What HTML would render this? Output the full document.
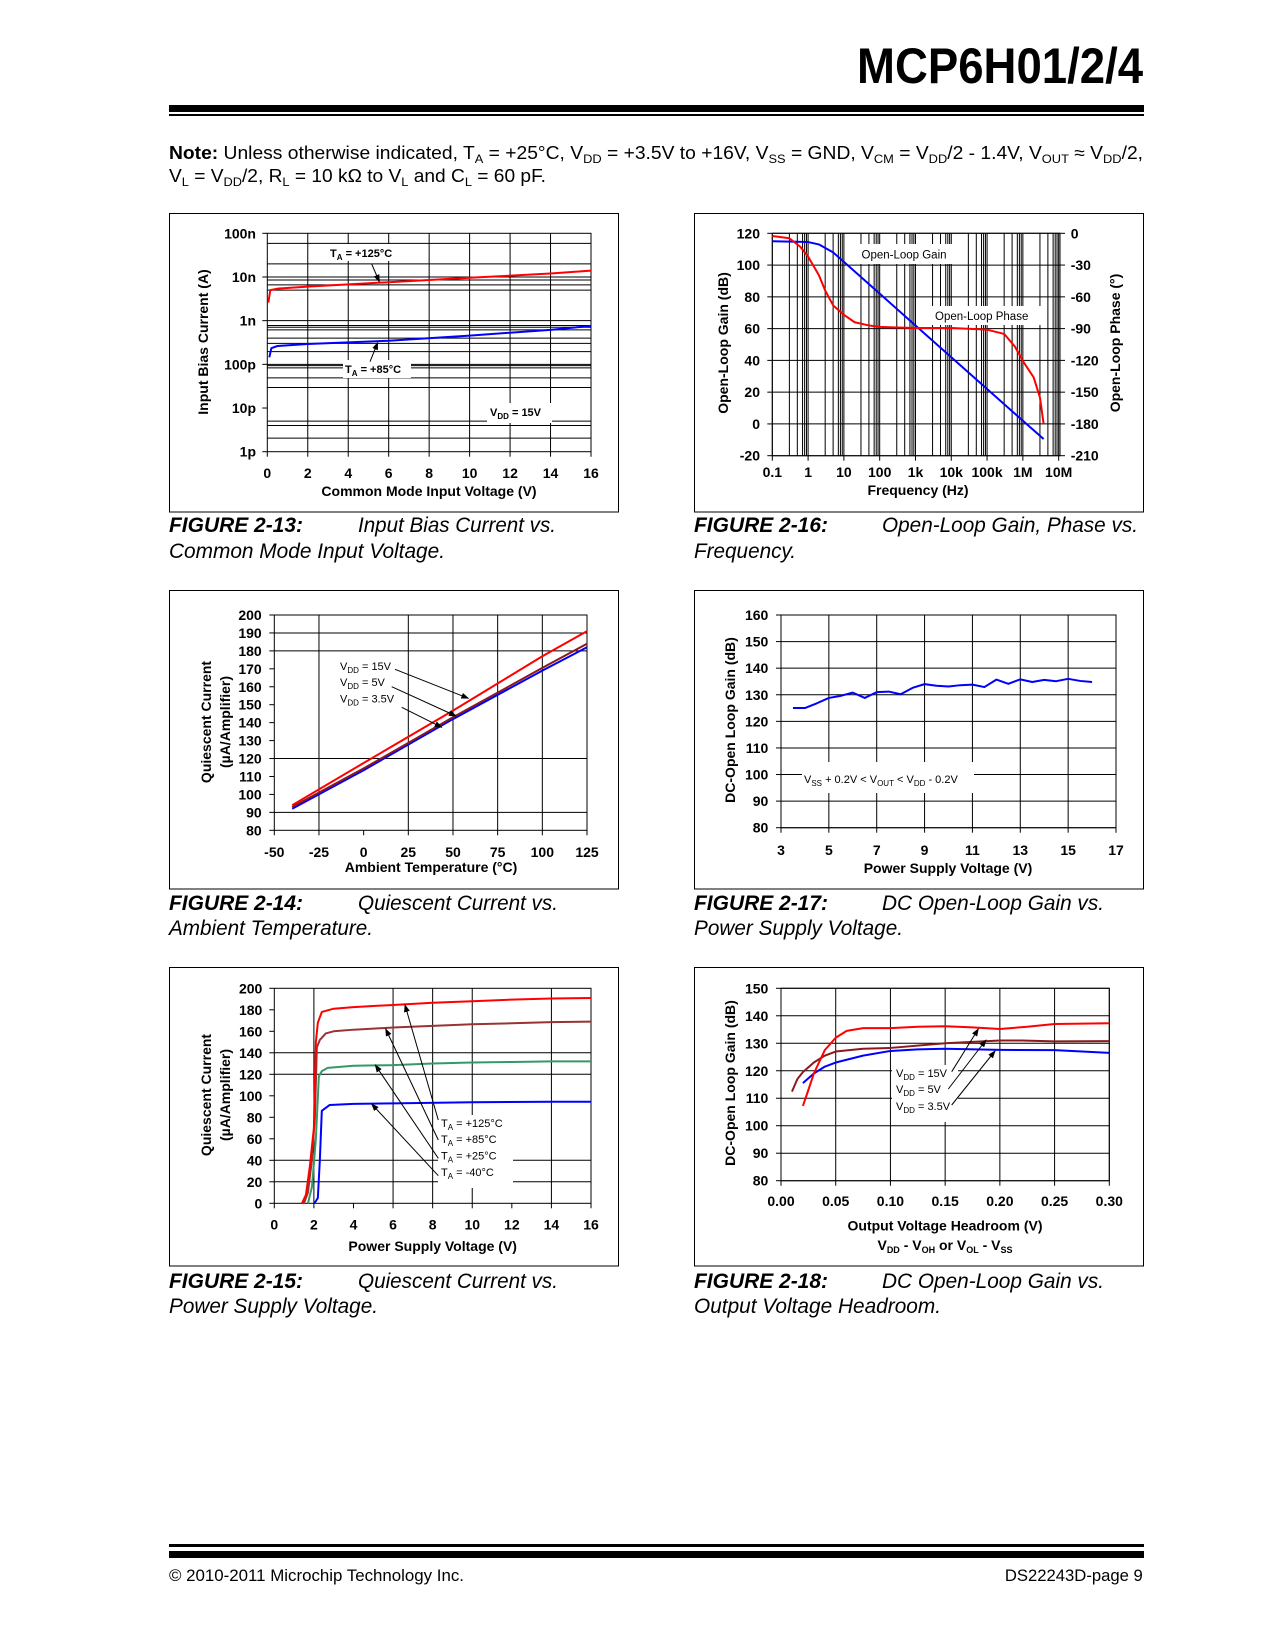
<!DOCTYPE html>
<html><head><meta charset="utf-8">
<style>
html,body{margin:0;padding:0;background:#fff;}
body{width:1275px;height:1650px;position:relative;overflow:hidden;font-family:"Liberation Sans",Arial,sans-serif;color:#000;}
.abs{position:absolute;white-space:nowrap;line-height:1;}
.fit{transform-origin:0 0;}
.fitr{transform-origin:100% 0;}
.note{font-size:18px;}
.note sub{font-size:12px;vertical-align:-4px;line-height:0;}
.cap{font-size:21px;font-style:italic;}
.cap b{font-weight:bold;}
.foot{font-size:17px;}
svg text{font-family:"Liberation Sans",Arial,sans-serif;font-weight:bold;font-size:14px;fill:#000;}
</style></head>
<body>
<div class="abs fitr" id="title" data-w="286" style="right:132px;top:41px;font-size:50px;font-weight:bold;">MCP6H01/2/4</div>
<div class="abs" style="left:169px;top:105px;width:975px;height:7px;background:#000;"></div>
<div class="abs" style="left:169px;top:114px;width:975px;height:2px;background:#000;"></div>

<div class="abs note fit" data-w="974" style="left:169px;top:144px;"><b>Note:</b> Unless otherwise indicated, T<sub>A</sub> = +25°C, V<sub>DD</sub> = +3.5V to +16V, V<sub>SS</sub> = GND, V<sub>CM</sub> = V<sub>DD</sub>/2 - 1.4V, V<sub>OUT</sub> ≈ V<sub>DD</sub>/2,</div>
<div class="abs note fit" data-w="377" style="left:169px;top:167px;">V<sub>L</sub> = V<sub>DD</sub>/2, R<sub>L</sub> = 10 kΩ to V<sub>L</sub> and C<sub>L</sub> = 60 pF.</div>

<!-- captions -->
<div class="abs cap fit" data-w="134" style="left:169px;top:515px;"><b>FIGURE 2-13:</b></div>
<div class="abs cap fit" data-w="198" style="left:358px;top:515px;">Input Bias Current vs.</div>
<div class="abs cap fit" data-w="276" style="left:169px;top:541px;">Common Mode Input Voltage.</div>
<div class="abs cap fit" data-w="134" style="left:694px;top:515px;"><b>FIGURE 2-16:</b></div>
<div class="abs cap fit" data-w="256" style="left:882px;top:515px;">Open-Loop Gain, Phase vs.</div>
<div class="abs cap fit" data-w="102" style="left:694px;top:541px;">Frequency.</div>

<div class="abs cap fit" data-w="134" style="left:169px;top:893px;"><b>FIGURE 2-14:</b></div>
<div class="abs cap fit" data-w="200" style="left:358px;top:893px;">Quiescent Current vs.</div>
<div class="abs cap fit" data-w="204" style="left:169px;top:918px;">Ambient Temperature.</div>
<div class="abs cap fit" data-w="134" style="left:694px;top:893px;"><b>FIGURE 2-17:</b></div>
<div class="abs cap fit" data-w="222" style="left:882px;top:893px;">DC Open-Loop Gain vs.</div>
<div class="abs cap fit" data-w="209" style="left:694px;top:918px;">Power Supply Voltage.</div>

<div class="abs cap fit" data-w="134" style="left:169px;top:1271px;"><b>FIGURE 2-15:</b></div>
<div class="abs cap fit" data-w="200" style="left:358px;top:1271px;">Quiescent Current vs.</div>
<div class="abs cap fit" data-w="209" style="left:169px;top:1296px;">Power Supply Voltage.</div>
<div class="abs cap fit" data-w="134" style="left:694px;top:1271px;"><b>FIGURE 2-18:</b></div>
<div class="abs cap fit" data-w="222" style="left:882px;top:1271px;">DC Open-Loop Gain vs.</div>
<div class="abs cap fit" data-w="247" style="left:694px;top:1296px;">Output Voltage Headroom.</div>

<div class="abs" style="left:169px;top:1544px;width:975px;height:3px;background:#000;"></div>
<div class="abs" style="left:169px;top:1551px;width:975px;height:7px;background:#000;"></div>
<div class="abs foot fit" data-w="295" style="left:169px;top:1567px;">© 2010-2011 Microchip Technology Inc.</div>
<div class="abs foot fitr" data-w="138" style="right:132px;top:1567px;">DS22243D-page 9</div>

<svg id="s" width="1275" height="1650" style="position:absolute;left:0;top:0;">
<defs><marker id="ah" markerWidth="8" markerHeight="6" refX="7" refY="3" orient="auto"><path d="M0,0 L8,3 L0,6 z" fill="#000"/></marker></defs>

<!-- ===== Chart 1 ===== -->
<g>
<rect x="169.5" y="213.5" width="449" height="298.5" fill="none" stroke="#000" stroke-width="1"/>
<g id="c1g"></g>
<rect x="327" y="244" width="74" height="17" fill="#fff"/>
<rect x="343" y="360" width="68" height="18" fill="#fff"/>
<rect x="487" y="403" width="65" height="20" fill="#fff"/>
<g id="c1c"></g>
<text x="330" y="257" style="font-size:11px">T<tspan font-size="8" dy="3">A</tspan><tspan dy="-3"> = +125°C</tspan></text>
<text x="345" y="373" style="font-size:11px">T<tspan font-size="8" dy="3">A</tspan><tspan dy="-3"> = +85°C</tspan></text>
<text x="490" y="416" style="font-size:11px">V<tspan font-size="8" dy="3">DD</tspan><tspan dy="-3"> = 15V</tspan></text>
<line x1="371.7" y1="264" x2="379.3" y2="281.7" stroke="#000" marker-end="url(#ah)"/>
<line x1="370" y1="361.7" x2="377.7" y2="342.7" stroke="#000" marker-end="url(#ah)"/>
<text x="429" y="496" text-anchor="middle">Common Mode Input Voltage (V)</text>
<text transform="translate(208,342) rotate(-90)" text-anchor="middle">Input Bias Current (A)</text>
</g>

<!-- ===== Chart 2 ===== -->
<g>
<rect x="694.5" y="213.5" width="449" height="298.5" fill="none" stroke="#000"/>
<g id="c2g"></g>
<rect x="858" y="244" width="102" height="20" fill="#fff"/>
<rect x="932" y="306" width="112" height="19" fill="#fff"/>
<g id="c2c"></g>
<text x="861.5" y="258.5" style="font-size:11.5px;font-weight:normal">Open-Loop Gain</text>
<text x="935" y="320" style="font-size:11.5px;font-weight:normal">Open-Loop Phase</text>
<text x="918" y="495" text-anchor="middle">Frequency (Hz)</text>
<text transform="translate(728,343) rotate(-90)" text-anchor="middle">Open-Loop Gain (dB)</text>
<text transform="translate(1120,343) rotate(-90)" text-anchor="middle">Open-Loop Phase (°)</text>
</g>

<!-- ===== Chart 3 ===== -->
<g>
<rect x="169.5" y="590.5" width="449" height="298.5" fill="none" stroke="#000"/>
<g id="c3g"></g>
<rect x="337" y="658" width="66" height="55" fill="#fff"/>
<g id="c3c"></g>
<text x="340" y="670" style="font-size:11px;font-weight:normal">V<tspan font-size="8" dy="3">DD</tspan><tspan dy="-3"> = 15V</tspan></text>
<text x="340" y="686" style="font-size:11px;font-weight:normal">V<tspan font-size="8" dy="3">DD</tspan><tspan dy="-3"> = 5V</tspan></text>
<text x="340" y="702.5" style="font-size:11px;font-weight:normal">V<tspan font-size="8" dy="3">DD</tspan><tspan dy="-3"> = 3.5V</tspan></text>
<line x1="395" y1="669.3" x2="468.3" y2="698.3" stroke="#000" marker-end="url(#ah)"/>
<line x1="391.7" y1="686.7" x2="456" y2="716" stroke="#000" marker-end="url(#ah)"/>
<line x1="401.7" y1="707.3" x2="441.7" y2="727.3" stroke="#000" marker-end="url(#ah)"/>
<text x="431" y="872" text-anchor="middle">Ambient Temperature (°C)</text>
<text transform="translate(211,722) rotate(-90)" text-anchor="middle">Quiescent Current</text>
<text transform="translate(230,722) rotate(-90)" text-anchor="middle">(µA/Amplifier)</text>
</g>

<!-- ===== Chart 4 ===== -->
<g>
<rect x="694.5" y="590.5" width="449" height="298.5" fill="none" stroke="#000"/>
<g id="c4g"></g>
<rect x="802" y="762" width="172" height="31" fill="#fff"/>
<g id="c4c"></g>
<text x="804" y="783" style="font-size:11px;font-weight:normal">V<tspan font-size="8" dy="3">SS</tspan><tspan dy="-3"> + 0.2V &lt; V</tspan><tspan font-size="8" dy="3">OUT</tspan><tspan dy="-3"> &lt; V</tspan><tspan font-size="8" dy="3">DD</tspan><tspan dy="-3"> - 0.2V</tspan></text>
<text x="948" y="873" text-anchor="middle">Power Supply Voltage (V)</text>
<text transform="translate(735,720) rotate(-90)" text-anchor="middle">DC-Open Loop Gain (dB)</text>
</g>

<!-- ===== Chart 5 ===== -->
<g>
<rect x="169.5" y="967.5" width="449" height="298.5" fill="none" stroke="#000"/>
<g id="c5g"></g>
<rect x="438" y="1115" width="75" height="73" fill="#fff"/>
<g id="c5c"></g>
<text x="441" y="1127" style="font-size:11px;font-weight:normal">T<tspan font-size="8" dy="3">A</tspan><tspan dy="-3"> = +125°C</tspan></text>
<text x="441" y="1143" style="font-size:11px;font-weight:normal">T<tspan font-size="8" dy="3">A</tspan><tspan dy="-3"> = +85°C</tspan></text>
<text x="441" y="1159.5" style="font-size:11px;font-weight:normal">T<tspan font-size="8" dy="3">A</tspan><tspan dy="-3"> = +25°C</tspan></text>
<text x="441" y="1176" style="font-size:11px;font-weight:normal">T<tspan font-size="8" dy="3">A</tspan><tspan dy="-3"> = -40°C</tspan></text>
<line x1="438.3" y1="1120" x2="405" y2="1005" stroke="#000" marker-end="url(#ah)"/>
<line x1="438.3" y1="1140" x2="385.7" y2="1029" stroke="#000" marker-end="url(#ah)"/>
<line x1="438.3" y1="1158.3" x2="375.3" y2="1065" stroke="#000" marker-end="url(#ah)"/>
<line x1="438.3" y1="1175.7" x2="371.7" y2="1104" stroke="#000" marker-end="url(#ah)"/>
<text x="432.7" y="1251" text-anchor="middle">Power Supply Voltage (V)</text>
<text transform="translate(211,1095) rotate(-90)" text-anchor="middle">Quiescent Current</text>
<text transform="translate(230,1095) rotate(-90)" text-anchor="middle">(µA/Amplifier)</text>
</g>

<!-- ===== Chart 6 ===== -->
<g>
<rect x="694.5" y="967.5" width="449" height="298.5" fill="none" stroke="#000"/>
<g id="c6g"></g>
<rect x="892" y="1065" width="66" height="57" fill="#fff"/>
<g id="c6c"></g>
<text x="896" y="1077" style="font-size:11px;font-weight:normal">V<tspan font-size="8" dy="3">DD</tspan><tspan dy="-3"> = 15V</tspan></text>
<text x="896" y="1093" style="font-size:11px;font-weight:normal">V<tspan font-size="8" dy="3">DD</tspan><tspan dy="-3"> = 5V</tspan></text>
<text x="896" y="1110" style="font-size:11px;font-weight:normal">V<tspan font-size="8" dy="3">DD</tspan><tspan dy="-3"> = 3.5V</tspan></text>
<line x1="951.7" y1="1071.7" x2="978.3" y2="1029" stroke="#000" marker-end="url(#ah)"/>
<line x1="948.3" y1="1089" x2="986" y2="1040" stroke="#000" marker-end="url(#ah)"/>
<line x1="951.7" y1="1105" x2="995" y2="1051" stroke="#000" marker-end="url(#ah)"/>
<text x="945" y="1230.5" text-anchor="middle">Output Voltage Headroom (V)</text>
<text x="945" y="1250" text-anchor="middle">V<tspan font-size="9" dy="3">DD</tspan><tspan dy="-3"> - V</tspan><tspan font-size="9" dy="3">OH</tspan><tspan dy="-3"> or V</tspan><tspan font-size="9" dy="3">OL</tspan><tspan dy="-3"> - V</tspan><tspan font-size="9" dy="3">SS</tspan></text>
<text transform="translate(735,1083) rotate(-90)" text-anchor="middle">DC-Open Loop Gain (dB)</text>
</g>
</svg>

<script>
// ---------- Chart 1 data ----------
const c1_v125 = [0.05, 0.15, 0.5, 2, 6, 10, 14, 16];
const c1_ib125 = [2.6e-9, 5.0e-9, 5.4e-9, 6.0e-9, 7.6e-9, 9.6e-9, 12e-9, 14e-9];
const c1_v85 = [0.1, 0.2, 0.5, 2, 6, 10, 14, 16];
const c1_ib85 = [145e-12, 234e-12, 263e-12, 293e-12, 347e-12, 455e-12, 617e-12, 760e-12];
const c1_yTickVals = [1e-7, 1e-8, 1e-9, 1e-10, 1e-11, 1e-12];
const c1_yTickLabels = ['100n', '10n', '1n', '100p', '10p', '1p'];
const c1_gridExp = [-7.23, -7.70, -8.0, -8.07, -8.18, -8.30, -9.0, -9.11, -9.15, -9.21, -9.40, -9.52, -9.71, -10.0, -10.03, -10.08, -10.31, -10.53, -11.30, -11.40, -11.69];
const c1_xTicks = [0, 2, 4, 6, 8, 10, 12, 14, 16];

// ---------- Chart 2 data ----------
const c2_fGain = [0.1, 1, 2, 5, 10, 100, 1e3, 1e4, 1e5, 1e6, 3.8e6];
const c2_gain = [115, 114.5, 113, 108, 102, 82, 62, 42, 22, 2, -9.5];
const c2_fPhase = [0.1, 0.3, 0.6, 1, 2, 3, 5, 10, 20, 50, 100, 1e3, 1e4, 1e5, 3e5, 6e5, 1e6, 2e6, 3e6, 3.8e6];
const c2_phase = [-2.5, -4.7, -12.6, -22, -39.5, -54, -68, -77, -84, -87, -88.4, -89.4, -89.4, -91, -95, -107, -120.6, -136, -155, -180];
const c2_decades = [0.1, 1, 10, 100, 1e3, 1e4, 1e5, 1e6, 1e7];
const c2_xLabels = ['0.1', '1', '10', '100', '1k', '10k', '100k', '1M', '10M'];
const c2_minor = [3, 5, 7, 8, 9];
const c2_gainTicks = [120, 100, 80, 60, 40, 20, 0, -20];
const c2_phaseTicks = [0, -30, -60, -90, -120, -150, -180, -210];

// ---------- Chart 3 data ----------
const c3_temp = [-40, 0, 50, 100, 125];
const c3_iq15 = [94, 117.5, 146.7, 177, 191];
const c3_iq5 = [93, 114.5, 143, 170.5, 184];
const c3_iq35 = [92, 113.5, 142, 169, 182];
const c3_xTicks = [-50, -25, 0, 25, 50, 75, 100, 125];
const c3_xGrid = [-25, 25, 50, 75, 100];
const c3_yTicks = [80, 90, 100, 110, 120, 130, 140, 150, 160, 170, 180, 190, 200];
const c3_yGrid = [90, 120, 180, 190];

// ---------- Chart 4 data ----------
const c4_vdd = [3.5, 4, 4.5, 5, 5.5, 6, 6.5, 7, 7.5, 8, 8.5, 9, 9.5, 10, 10.5, 11, 11.5, 12, 12.5, 13, 13.5, 14, 14.5, 15, 15.5, 16];
const c4_gain = [125, 125, 126.8, 128.8, 129.6, 130.8, 128.8, 131, 131.2, 130.2, 132.6, 134, 133.4, 133.1, 133.6, 133.8, 132.9, 135.7, 134.1, 135.8, 134.8, 135.6, 135.1, 136, 135.2, 134.8];
const c4_xTicks = [3, 5, 7, 9, 11, 13, 15, 17];
const c4_yTicks = [80, 90, 100, 110, 120, 130, 140, 150, 160];

// ---------- Chart 5 data ----------
const c5_v125 = [1.4, 1.6, 1.8, 2.0, 2.1, 2.2, 2.4, 3, 4, 6, 8, 10, 12, 14, 16];
const c5_iq125 = [0, 8, 35, 70, 150, 168, 178, 181, 182.5, 184.5, 186.5, 188, 189.5, 190.5, 191];
const c5_v85 = [1.5, 1.7, 1.9, 2.05, 2.15, 2.3, 2.6, 3, 4, 6, 8, 10, 12, 14, 16];
const c5_iq85 = [0, 10, 40, 80, 145, 152, 158, 160, 161.5, 163.5, 165, 166.5, 167.5, 168.5, 169];
const c5_v25 = [1.7, 1.9, 2.1, 2.25, 2.4, 2.7, 4, 6, 8, 10, 12, 14, 16];
const c5_iq25 = [0, 15, 60, 118, 123, 126, 128, 128.5, 130, 131, 131.5, 132, 132];
const c5_vm40 = [2.0, 2.1, 2.2, 2.3, 2.4, 2.8, 4, 6, 10, 14, 16];
const c5_iqm40 = [0, 2, 5, 40, 86, 91.5, 92.5, 93, 94, 94.5, 94.5];
const c5_xTicks = [0, 2, 4, 6, 8, 10, 12, 14, 16];
const c5_xGrid = [2, 6, 8, 10, 14];
const c5_yTicks = [0, 20, 40, 60, 80, 100, 120, 140, 160, 180, 200];
const c5_yGrid = [20, 40, 120, 140];

// ---------- Chart 6 data ----------
const c6_h15 = [0.02, 0.025, 0.03, 0.04, 0.05, 0.06, 0.075, 0.10, 0.125, 0.15, 0.175, 0.20, 0.225, 0.25, 0.30];
const c6_g15 = [107.2, 113, 119, 127.5, 132, 134.5, 135.5, 135.5, 136, 136.2, 135.8, 135.2, 136, 137, 137.3];
const c6_h5 = [0.01, 0.015, 0.02, 0.03, 0.04, 0.05, 0.075, 0.10, 0.15, 0.20, 0.22, 0.25, 0.30];
const c6_g5 = [112.4, 117, 119.5, 123, 125.5, 127, 128, 128.3, 130, 131, 131, 130.7, 130.8];
const c6_h35 = [0.02, 0.03, 0.04, 0.05, 0.075, 0.10, 0.125, 0.15, 0.20, 0.25, 0.30];
const c6_g35 = [115.5, 119, 121.5, 123, 125.5, 127.2, 127.8, 128, 127.6, 127.5, 126.5];
const c6_xTicks = [0, 0.05, 0.10, 0.15, 0.20, 0.25, 0.30];
const c6_yTicks = [80, 90, 100, 110, 120, 130, 140, 150];

const NS = 'http://www.w3.org/2000/svg';
function lin(d0, d1, r0, r1) { return v => r0 + (v - d0) / (d1 - d0) * (r1 - r0); }
function logs(d0, d1, r0, r1) { return v => r0 + (Math.log10(v) - Math.log10(d0)) / (Math.log10(d1) - Math.log10(d0)) * (r1 - r0); }
function el(tag, parent) { const e = document.createElementNS(NS, tag); parent.appendChild(e); return e; }
function seg(parent, x1, y1, x2, y2) {
  const l = el('line', parent);
  l.setAttribute('x1', x1); l.setAttribute('y1', y1); l.setAttribute('x2', x2); l.setAttribute('y2', y2);
  l.setAttribute('stroke', '#000'); l.setAttribute('stroke-width', '1');
  return l;
}
function hgrid(g, ys, vals, x0, x1) {
  vals.forEach(v => {
    const l = seg(g, x0, ys(v), x1, ys(v));
    
    
  });
}
function vgrid(g, xs, vals, y0, y1) {
  vals.forEach(v => {
    const l = seg(g, xs(v), y0, xs(v), y1);
    
    
  });
}
function frame(g, x0, x1, y0, y1) {
  const r = el('rect', g);
  r.setAttribute('x', x0); r.setAttribute('y', y0); r.setAttribute('width', x1 - x0); r.setAttribute('height', y1 - y0);
  r.setAttribute('fill', 'none'); r.setAttribute('stroke', '#000');
  
  
}
function yTicks(g, ys, vals, labels, x, lx) {
  vals.forEach((v, i) => {
    const t = seg(g, x - 5, ys(v), x, ys(v));
    
    
    const tx = el('text', g);
    tx.setAttribute('x', lx); tx.setAttribute('y', ys(v) + 5); tx.setAttribute('text-anchor', 'end');
    tx.textContent = labels[i];
    
    
  });
}
function xTicks(g, xs, vals, labels, y, ly) {
  vals.forEach((v, i) => {
    const t = seg(g, xs(v), y, xs(v), y + 5);
    
    
    const tx = el('text', g);
    tx.setAttribute('x', xs(v)); tx.setAttribute('y', ly); tx.setAttribute('text-anchor', 'middle');
    tx.textContent = labels[i];
    
    
  });
}
function curve(g, xs, ys, xv, yv, color, name) {
  const p = el('path', g);
  p.setAttribute('d', xv.map((x, i) => (i ? 'L' : 'M') + xs(x).toFixed(2) + ',' + ys(yv[i]).toFixed(2)).join(' '));
  p.setAttribute('fill', 'none'); p.setAttribute('stroke', color); p.setAttribute('stroke-width', '2');
  p.setAttribute('stroke-linejoin', 'round');
  
  
}
const $ = id => document.getElementById(id);
const fmt = v => String(v);

// Chart 1
(function () {
  const g = $('c1g'), c = $('c1c');
  const xs = lin(0, 16, 267.3, 591), ys = logs(1e-7, 1e-12, 233.3, 451.7);
  hgrid(g, ys, c1_gridExp.map(e => Math.pow(10, e)), 267.3, 591);
  vgrid(g, xs, c1_xTicks.slice(1), 233.3, 451.7);
  frame(g, 267.3, 591, 233.3, 451.7);
  yTicks(g, ys, c1_yTickVals, c1_yTickLabels, 267.3, 256);
  xTicks(g, xs, c1_xTicks, c1_xTicks.map(fmt), 451.7, 478);
  curve(c, xs, ys, c1_v125, c1_ib125, '#ff0000', 'series-ta-125');
  curve(c, xs, ys, c1_v85, c1_ib85, '#0000ff', 'series-ta-85');
})();

// Chart 2
(function () {
  const g = $('c2g'), c = $('c2c');
  const X0 = 772.3, X1 = 1060, Y0 = 233.3, Y1 = 455.7;
  const xs = logs(0.1, 1.09e7, X0, X1), ys = lin(120, -20, Y0, Y1), yp = lin(0, -210, Y0, Y1);
  const minorVals = [];
  c2_decades.forEach(d => { minorVals.push(d); c2_minor.forEach(m => { if (d * m <= 1.09e7) minorVals.push(d * m); }); });
  vgrid(g, xs, minorVals, Y0, Y1);
  hgrid(g, ys, c2_gainTicks, X0, X1);
  frame(g, X0, X1, Y0, Y1);
  yTicks(g, ys, c2_gainTicks, c2_gainTicks.map(fmt), X0, 760);
  c2_phaseTicks.forEach(v => {
    const t = seg(g, X1, yp(v), X1 + 5, yp(v));
    
    
    const tx = el('text', g);
    tx.setAttribute('x', 1070.7); tx.setAttribute('y', yp(v) + 5);
    tx.textContent = String(v);
    
    
  });
  xTicks(g, xs, c2_decades, c2_xLabels, Y1, 477);
  curve(c, xs, ys, c2_fGain, c2_gain, '#0000ff', 'series-gain');
  curve(c, xs, yp, c2_fPhase, c2_phase, '#ff0000', 'series-phase');
})();

// Chart 3
(function () {
  const g = $('c3g'), c = $('c3c');
  const X0 = 274.3, X1 = 587, Y0 = 615, Y1 = 830.3;
  const xs = lin(-50, 125, X0, X1), ys = lin(200, 80, Y0, Y1);
  hgrid(g, ys, c3_yGrid, X0, X1);
  vgrid(g, xs, c3_xGrid, Y0, Y1);
  frame(g, X0, X1, Y0, Y1);
  yTicks(g, ys, c3_yTicks, c3_yTicks.map(fmt), X0, 261.7);
  xTicks(g, xs, c3_xTicks, c3_xTicks.map(fmt), Y1, 857);
  curve(c, xs, ys, c3_temp, c3_iq35, '#0000ff', 'series-vdd-3v5');
  curve(c, xs, ys, c3_temp, c3_iq5, '#8b1a1a', 'series-vdd-5v');
  curve(c, xs, ys, c3_temp, c3_iq15, '#ff0000', 'series-vdd-15v');
})();

// Chart 4
(function () {
  const g = $('c4g'), c = $('c4c');
  const X0 = 781, X1 = 1116, Y0 = 615, Y1 = 827.7;
  const xs = lin(3, 17, X0, X1), ys = lin(160, 80, Y0, Y1);
  hgrid(g, ys, c4_yTicks, X0, X1);
  vgrid(g, xs, c4_xTicks.slice(1), Y0, Y1);
  frame(g, X0, X1, Y0, Y1);
  yTicks(g, ys, c4_yTicks, c4_yTicks.map(fmt), X0, 768.3);
  xTicks(g, xs, c4_xTicks, c4_xTicks.map(fmt), Y1, 855);
  curve(c, xs, ys, c4_vdd, c4_gain, '#0000ff', 'series-dc-gain');
})();

// Chart 5
(function () {
  const g = $('c5g'), c = $('c5c');
  const X0 = 274.3, X1 = 591, Y0 = 988.3, Y1 = 1203.3;
  const xs = lin(0, 16, X0, X1), ys = lin(200, 0, Y0, Y1);
  hgrid(g, ys, c5_yGrid, X0, X1);
  vgrid(g, xs, c5_xGrid, Y0, Y1);
  frame(g, X0, X1, Y0, Y1);
  yTicks(g, ys, c5_yTicks, c5_yTicks.map(fmt), X0, 262.3);
  xTicks(g, xs, c5_xTicks, c5_xTicks.map(fmt), Y1, 1229.5);
  curve(c, xs, ys, c5_vm40, c5_iqm40, '#0000ff', 'series-ta-m40');
  curve(c, xs, ys, c5_v25, c5_iq25, '#339966', 'series-ta-25');
  curve(c, xs, ys, c5_v85, c5_iq85, '#993333', 'series-ta-85');
  curve(c, xs, ys, c5_v125, c5_iq125, '#ff0000', 'series-ta-125');
})();

// Chart 6
(function () {
  const g = $('c6g'), c = $('c6c');
  const X0 = 781, X1 = 1109.3, Y0 = 988.3, Y1 = 1180.7;
  const xs = lin(0, 0.30, X0, X1), ys = lin(150, 80, Y0, Y1);
  hgrid(g, ys, c6_yTicks, X0, X1);
  vgrid(g, xs, c6_xTicks.slice(1), Y0, Y1);
  frame(g, X0, X1, Y0, Y1);
  yTicks(g, ys, c6_yTicks, c6_yTicks.map(fmt), X0, 768.3);
  xTicks(g, xs, c6_xTicks, c6_xTicks.map(v => v.toFixed(2)), Y1, 1206);
  curve(c, xs, ys, c6_h35, c6_g35, '#0000ff', 'series-vdd-3v5');
  curve(c, xs, ys, c6_h5, c6_g5, '#8b1a1a', 'series-vdd-5v');
  curve(c, xs, ys, c6_h15, c6_g15, '#ff0000', 'series-vdd-15v');
})();

// fit text widths
document.querySelectorAll('.fit,.fitr').forEach(e => {
  const w = parseFloat(e.getAttribute('data-w'));
  const a = e.getBoundingClientRect().width;
  if (a > 0) e.style.transform = 'scaleX(' + (w / a) + ')';
});
</script>
</body></html>
